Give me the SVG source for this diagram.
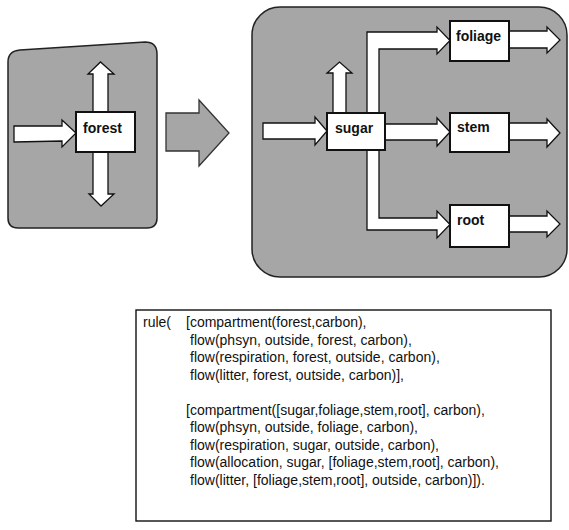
<svg xmlns="http://www.w3.org/2000/svg" width="569" height="530" viewBox="0 0 569 530">
<style>
.panel{fill:#a6a6a6;stroke:#222;stroke-width:1.5}
.arr{fill:#fff;stroke:#111;stroke-width:1.3;stroke-linejoin:miter}
.box{fill:#fff;stroke:#111;stroke-width:2}
.lbl{font-family:"Liberation Sans",Arial,sans-serif;font-weight:bold;font-size:14px;fill:#111}
.code{font-family:"Liberation Sans",Arial,sans-serif;font-size:14px;fill:#111}
</style>
<rect width="569" height="530" fill="#fff"/>
<g id="panel-left">
<path class="panel" d="M20,50 L145,42 Q157,42 157,54 L157,218 Q157,228 147,228 L18,228 Q8,228 8,218 L8,62 Q8,51 20,50 Z"/>
</g>
<g id="panel-right">
<rect class="panel" x="252" y="7" width="315" height="270" rx="28"/>
</g>
<g id="connectors">
<path id="forest-in" class="arr" d="M14,126 L62,126 L62,120 L76,133 L62,147 L62,141 L14,142 Z"/>
<path id="forest-updown" class="arr" d="M93,74 L88,74 L100.5,62 L114,74 L108,74 L108,194 L114,194 L101,206 L89,194 L93,194 Z"/>
<path id="transform" d="M166,113 L199,113 L199,100 L229,133 L199,166 L199,151 L166,151 Z" fill="#a6a6a6" stroke="#333" stroke-width="1.3"/>
<path id="sugar-in" class="arr" d="M263,123 L315,123 L315,117 L327,131 L315,145 L315,139 L263,139 Z"/>
<path id="sugar-up" class="arr" d="M333,113 L333,73 L327,73 L339.5,62 L352,73 L346,73 L346,113 Z"/>
<path id="sugar-stem" class="arr" d="M385,124 L437,124 L437,118 L450,132 L437,146 L437,140 L385,140 Z"/>
<path id="alloc" class="arr" d="M367,32 L437,32 L437,27 L450,40.5 L437,54 L437,49 L379,49 L379,218 L437,218 L437,211 L450,224.5 L437,238 L437,230 L367,230 Z"/>
<path id="foliage-out" class="arr" d="M509,31 L547,31 L547,27 L560,40 L547,53 L547,48 L509,48 Z"/>
<path id="stem-out" class="arr" d="M509,123 L547,123 L547,119 L560,133 L547,147 L547,140 L509,140 Z"/>
<path id="root-out" class="arr" d="M509,216 L547,216 L547,211 L560,224 L547,237 L547,232 L509,232 Z"/>
</g>
<g id="node-forest">
<rect class="box" x="76" y="112" width="59" height="40"/>
<text class="lbl" x="83" y="133">forest</text>
</g>
<g id="node-sugar">
<rect class="box" x="327" y="113" width="58" height="37"/>
<text class="lbl" x="335" y="133">sugar</text>
</g>
<g id="node-foliage">
<rect class="box" x="450" y="21" width="59" height="40"/>
<text class="lbl" x="456" y="41">foliage</text>
</g>
<g id="node-stem">
<rect class="box" x="450" y="113" width="59" height="39"/>
<text class="lbl" x="457" y="132">stem</text>
</g>
<g id="node-root">
<rect class="box" x="450" y="205" width="59" height="42"/>
<text class="lbl" x="457" y="225">root</text>
</g>
<g id="rule-box">
<rect x="136" y="310" width="415" height="211" fill="#fff" stroke="#111" stroke-width="1.4"/>
<text class="code" x="143" y="327">rule(</text>
<text class="code" x="186" y="327">[compartment(forest,carbon),</text>
<text class="code" x="190" y="344.5">flow(phsyn, outside, forest, carbon),</text>
<text class="code" x="190" y="362">flow(respiration, forest, outside, carbon),</text>
<text class="code" x="190" y="379.5">flow(litter, forest, outside, carbon)],</text>
<text class="code" x="186" y="414.5">[compartment([sugar,foliage,stem,root], carbon),</text>
<text class="code" x="190" y="432">flow(phsyn, outside, foliage, carbon),</text>
<text class="code" x="190" y="449.5">flow(respiration, sugar, outside, carbon),</text>
<text class="code" x="190" y="467">flow(allocation, sugar, [foliage,stem,root], carbon),</text>
<text class="code" x="190" y="484.5">flow(litter, [foliage,stem,root], outside, carbon)]).</text>
</g>
</svg>
